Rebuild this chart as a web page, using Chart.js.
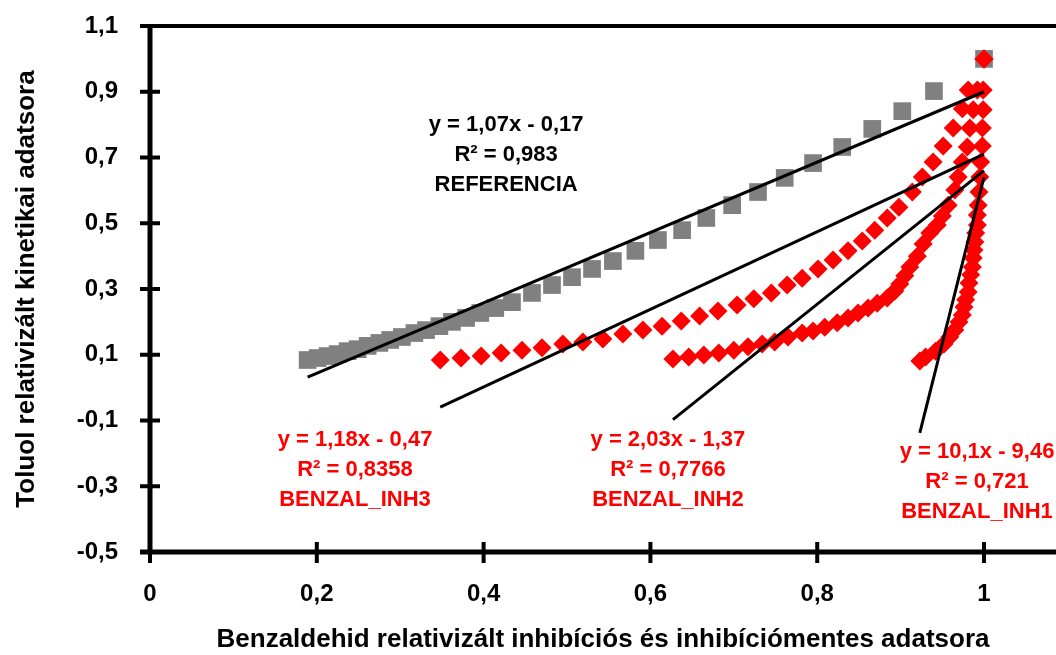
<!DOCTYPE html>
<html><head><meta charset="utf-8">
<script src="https://cdn.jsdelivr.net/npm/chart.js@4.4.1/dist/chart.umd.min.js"></script>
<style>html,body{margin:0;padding:0;background:#fff;}#wrap{width:1056px;height:655px;position:relative;}</style>
</head><body><div id="wrap"><canvas id="c"></canvas></div>
<script>
// ---- data ----
const refX = [0.189,0.201,0.213,0.225,0.237,0.249,0.261,0.275,0.288,0.302,0.317,0.331,0.347,0.362,0.379,0.396,0.414,0.434,0.458,0.482,0.506,0.530,0.555,0.582,0.609,0.638,0.667,0.698,0.729,0.761,0.795,0.830,0.866,0.902,0.940,1.000];
const refY = [0.084,0.090,0.096,0.102,0.111,0.117,0.127,0.136,0.145,0.154,0.166,0.175,0.187,0.200,0.212,0.227,0.242,0.260,0.288,0.312,0.336,0.361,0.385,0.416,0.449,0.479,0.516,0.555,0.595,0.638,0.683,0.732,0.787,0.841,0.902,1.000];

const inh3X = [0.348,0.373,0.397,0.421,0.446,0.470,0.495,0.519,0.543,0.567,0.591,0.614,0.637,0.659,0.681,0.704,0.724,0.745,0.764,0.782,0.801,0.819,0.837,0.854,0.869,0.884,0.898,0.914,0.926,0.939,0.951,0.963,0.974,0.981,1.000];
const inh3Y = [0.084,0.090,0.096,0.105,0.114,0.121,0.133,0.139,0.148,0.163,0.175,0.187,0.203,0.218,0.233,0.251,0.270,0.288,0.312,0.333,0.361,0.388,0.416,0.446,0.479,0.516,0.549,0.595,0.641,0.686,0.735,0.790,0.848,0.905,1.000];

const inh2X = [0.627,0.646,0.664,0.682,0.700,0.717,0.734,0.749,0.765,0.782,0.795,0.809,0.824,0.837,0.849,0.861,0.872,0.884,0.893,0.899,0.905,0.911,0.920,0.927,0.935,0.944,0.950,0.957,0.965,0.969,0.974,0.980,0.983,0.987,0.992,1.000];
const inh2Y = [0.087,0.093,0.099,0.105,0.114,0.124,0.133,0.139,0.154,0.166,0.172,0.184,0.197,0.212,0.227,0.242,0.257,0.273,0.294,0.315,0.340,0.367,0.400,0.437,0.470,0.495,0.522,0.555,0.601,0.641,0.686,0.732,0.790,0.845,0.905,1.000];

const inh1X = [0.923,0.930,0.942,0.952,0.959,0.965,0.970,0.974,0.976,0.978,0.981,0.982,0.984,0.986,0.987,0.988,0.989,0.990,0.992,0.992,0.993,0.994,0.995,0.996,0.998,0.998,0.999,0.999,1.000];
const inh1Y = [0.081,0.093,0.111,0.133,0.154,0.175,0.200,0.221,0.245,0.267,0.291,0.318,0.343,0.367,0.394,0.419,0.443,0.470,0.495,0.525,0.555,0.595,0.641,0.686,0.735,0.790,0.845,0.905,1.000];

const trendSlopes = [1.07, 1.18, 2.03, 10.1];
const trendIntercepts = [-0.17, -0.47, -1.37, -9.46];
const seriesNames = ['REFERENCIA', 'BENZAL_INH3', 'BENZAL_INH2', 'BENZAL_INH1'];
const equationTexts = ['y = 1,07x - 0,17', 'y = 1,18x - 0,47', 'y = 2,03x - 1,37', 'y = 10,1x - 9,46'];
const r2Texts = ['R² = 0,983', 'R² = 0,8358', 'R² = 0,7766', 'R² = 0,721'];
const xTitle = 'Benzaldehid relativizált inhibíciós és inhibíciómentes adatsora';
const yTitle = 'Toluol relativizált kinetikai adatsora';

// ---- build ----
const FONT = '"Liberation Sans", Arial, Helvetica, sans-serif';
const zip = (xs, ys) => xs.map((x, i) => ({x, y: ys[i]}));
const seriesX = [refX, inh3X, inh2X, inh1X];
const labelColors = ['#000000', '#ff0000', '#ff0000', '#ff0000'];
// label anchor (data coords of first line centre)
const labelAnchors = [[0.427, 0.799], [0.2458, -0.159], [0.621, -0.159], [0.9916, -0.196]];

const trendSets = seriesX.map((xs, i) => {
  const lo = Math.min(...xs), hi = Math.max(...xs);
  return {
    type: 'scatter', showLine: true, order: 0,
    data: [{x: lo, y: trendSlopes[i] * lo + trendIntercepts[i]}, {x: hi, y: trendSlopes[i] * hi + trendIntercepts[i]}],
    borderColor: '#000', borderWidth: 3, pointRadius: 0, fill: false
  };
});

const datasets = [
  {label: seriesNames[0], data: zip(refX, refY), pointStyle: 'rect', pointRadius: 12.5, backgroundColor: '#808080', borderWidth: 0, order: 3},
  {label: seriesNames[1], data: zip(inh3X, inh3Y), pointStyle: 'rectRot', pointRadius: 9.5, backgroundColor: '#ff0000', borderWidth: 0, order: 2},
  {label: seriesNames[2], data: zip(inh2X, inh2Y), pointStyle: 'rectRot', pointRadius: 9.5, backgroundColor: '#ff0000', borderWidth: 0, order: 2},
  {label: seriesNames[3], data: zip(inh1X, inh1Y), pointStyle: 'rectRot', pointRadius: 9.5, backgroundColor: '#ff0000', borderWidth: 0, order: 1},
  ...trendSets
];

const fmt = v => { const r = Math.round(v * 10) / 10; return String(r).replace('.', ','); };

const axesPlugin = {
  id: 'axesPlugin',
  afterDraw(chart) {
    const {ctx, chartArea: a, scales: {x, y}} = chart;
    ctx.save();
    ctx.strokeStyle = '#000';
    ctx.lineCap = 'butt';
    ctx.lineWidth = 4;
    ctx.beginPath(); ctx.moveTo(a.left - 10, a.top); ctx.lineTo(a.right, a.top); ctx.stroke();
    ctx.lineWidth = 5;
    ctx.beginPath(); ctx.moveTo(a.left, a.top - 2); ctx.lineTo(a.left, a.bottom + 2); ctx.stroke();
    ctx.lineWidth = 5;
    ctx.beginPath(); ctx.moveTo(a.left - 10, a.bottom); ctx.lineTo(a.right, a.bottom); ctx.stroke();
    ctx.lineWidth = 4;
    y.ticks.forEach(t => {
      const py = y.getPixelForValue(t.value);
      ctx.beginPath(); ctx.moveTo(a.left - 10, py); ctx.lineTo(a.left + 10, py); ctx.stroke();
    });
    x.ticks.forEach(t => {
      const px = x.getPixelForValue(t.value);
      ctx.beginPath(); ctx.moveTo(px, a.bottom - 10); ctx.lineTo(px, a.bottom + 11); ctx.stroke();
    });
    ctx.font = 'bold 22px ' + FONT;
    ctx.textAlign = 'center';
    ctx.textBaseline = 'middle';
    labelAnchors.forEach((p, i) => {
      const cx = x.getPixelForValue(p[0]);
      const cy = y.getPixelForValue(p[1]);
      ctx.fillStyle = labelColors[i];
      [equationTexts[i], r2Texts[i], seriesNames[i]].forEach((s, k) => ctx.fillText(s, cx, cy + k * 30));
    });
    ctx.restore();
  }
};

new Chart(document.getElementById('c'), {
  type: 'scatter',
  data: {datasets},
  plugins: [axesPlugin],
  options: {
    responsive: true, maintainAspectRatio: false, animation: false, events: [],
    layout: {autoPadding: false, padding: {top: 26, right: 0, left: 0, bottom: 0}},
    plugins: {legend: {display: false}, tooltip: {enabled: false}},
    scales: {
      x: {
        type: 'linear', min: 0, max: 1.0863,
        grid: {display: false, drawTicks: false}, border: {display: false},
        ticks: {stepSize: 0.2, includeBounds: false, padding: 28, color: '#000', font: {family: FONT, size: 24, weight: 'bold'}, callback: v => fmt(v), maxRotation: 0},
        title: {display: true, text: xTitle, color: '#000', font: {family: FONT, size: 26, weight: 'bold'}, padding: {top: 0, bottom: 0}},
        afterFit: s => { s.height = 103; s.paddingLeft = 0; s.paddingRight = 0; }
      },
      y: {
        type: 'linear', min: -0.5, max: 1.1,
        grid: {display: false, drawTicks: false}, border: {display: false},
        ticks: {stepSize: 0.2, padding: 32, color: '#000', font: {family: FONT, size: 24, weight: 'bold'}, callback: v => fmt(v)},
        title: {display: true, text: yTitle, color: '#000', font: {family: FONT, size: 26, weight: 'bold'}, padding: {top: 11, bottom: 0}},
        afterFit: s => { s.width = 150; s.paddingTop = 0; s.paddingBottom = 0; }
      }
    }
  }
});
</script></body></html>
